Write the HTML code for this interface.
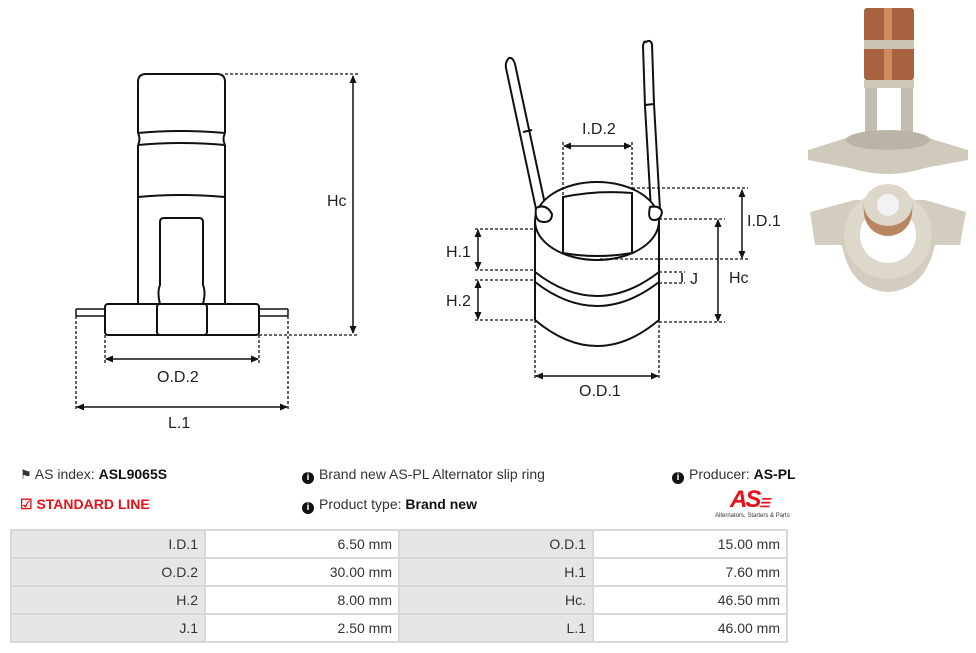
<!DOCTYPE html>
<html><head><meta charset="utf-8"><style>
body{margin:0;width:976px;height:653px;background:#fff;font-family:"Liberation Sans",sans-serif;position:relative;overflow:hidden}
.t{position:absolute;font-size:14px;color:#333;white-space:nowrap}
b{color:#111}
table{position:absolute;left:10px;top:529px;border-collapse:collapse;width:778px}
td{border:2px solid #d8d8d8;height:26px;font-size:14px;color:#333;text-align:right;padding:0 6px}
td.g{background:#e6e6e6;width:181px}
td.w{background:#fff;width:181px}
.ic{display:inline-block;width:12px;height:12px;border-radius:50%;background:#111;color:#fff;font-size:10px;line-height:12px;text-align:center;font-weight:bold;vertical-align:-1px;margin-right:5px}
</style></head><body>
<svg width="976" height="460" style="position:absolute;left:0;top:0" fill="none" stroke="#111" stroke-width="2">
<defs><marker id="a" markerUnits="userSpaceOnUse" markerWidth="8" markerHeight="8" refX="7" refY="4" orient="auto-start-reverse"><path d="M0,0.5 L8,4 L0,7.5z" fill="#111" stroke="none"/></marker></defs>
<!-- left part -->
<path d="M138,133 L138,82 Q138,74 146,74 L217,74 Q225,74 225,82 L225,133"/>
<path d="M138,133 Q180,129 225,133 M138,133 Q141,139 138,145 M225,133 Q222,139 225,145 M138,145 Q180,141 225,145"/>
<path d="M138,145 L138,304 M225,145 L225,304 M138,197 Q180,193 225,197"/>
<path d="M160,304 Q157,292 160,285 L160,222 Q160,218 164,218 L199,218 Q203,218 203,222 L203,285 Q206,292 203,304"/>
<rect x="105" y="304" width="154" height="31" rx="3"/>
<rect x="157" y="304" width="50" height="31" rx="3"/>
<path d="M76,309 L105,309 M76,316 L105,316 M259,309 L288,309 M259,316 L288,316 M76,309 L76,316 M288,309 L288,316" stroke-width="1.5"/>
<g stroke-dasharray="3,2" stroke-width="1.3">
<path d="M225,74 L358,74 M259,335 L358,335 M105,335 L105,364 M259,335 L259,364 M76,316 L76,410 M288,316 L288,410"/>
</g>
<g stroke-width="1.5">
<path d="M353,76 L353,333" marker-start="url(#a)" marker-end="url(#a)"/>
<path d="M106,359 L258,359" marker-start="url(#a)" marker-end="url(#a)"/>
<path d="M77,407 L287,407" marker-start="url(#a)" marker-end="url(#a)"/>
</g>
<!-- right part -->
<path d="M509,58 Q505,62 506,68 L536,209 L546,209 L515,64 Q513,57 509,58z" fill="#fff"/>
<path d="M523,132 L532,130"/>
<path d="M646,42 Q644,40 643,46 L645,106 L651,210 L660,210 L654,104 L652,44 Q650,39 646,42z" fill="#fff"/>
<path d="M645,105 L654,104"/>
<ellipse cx="597" cy="221" rx="62" ry="39" fill="#fff"/>
<path d="M563,197 Q597,190 632,193 L632,253 Q597,259 563,253 Z"/>
<path d="M535,221 L535,320 M659,221 L659,320"/>
<path d="M535,272 Q597,320 659,272 M535,282 Q597,330 659,282 M535,320 Q597,372 659,320"/>
<path d="M536,208 Q546,203 552,214 Q552,222 544,222 Q534,222 536,208z" fill="#fff"/>
<path d="M650,207 Q660,205 662,212 Q661,220 654,220 Q647,220 650,207z" fill="#fff"/>
<g stroke-dasharray="3,2" stroke-width="1.3">
<path d="M563,142 L563,197 M632,142 L632,193 M632,188 L748,188 M600,259 L748,259 M659,219 L725,219 M659,322 L725,322 M475,229 L535,229 M475,270 L535,270 M475,280 L535,280 M475,320 L535,320 M659,272 L685,272 M659,283 L685,283 M535,320 L535,380 M659,320 L659,380"/>
</g>
<g stroke-width="1.5">
<path d="M564,146 L631,146" marker-start="url(#a)" marker-end="url(#a)"/>
<path d="M742,190 L742,258" marker-start="url(#a)" marker-end="url(#a)"/>
<path d="M718,220 L718,321" marker-start="url(#a)" marker-end="url(#a)"/>
<path d="M478,230 L478,269" marker-start="url(#a)" marker-end="url(#a)"/>
<path d="M478,281 L478,319" marker-start="url(#a)" marker-end="url(#a)"/>
<path d="M682,273 L682,282"/>
<path d="M536,376 L658,376" marker-start="url(#a)" marker-end="url(#a)"/>
</g>
<g fill="#222" stroke="none" font-family="Liberation Sans" font-size="16">
<text x="327" y="206">Hc</text><text x="157" y="382">O.D.2</text><text x="168" y="428">L.1</text>
<text x="582" y="134">I.D.2</text><text x="747" y="226">I.D.1</text><text x="729" y="283">Hc</text>
<text x="446" y="257">H.1</text><text x="446" y="306">H.2</text><text x="690" y="284">J</text><text x="579" y="396">O.D.1</text>
</g>
<!-- photos -->
<g stroke="none">
<rect x="864" y="8" width="50" height="72" rx="3" fill="#a8623f"/>
<rect x="884" y="8" width="8" height="72" fill="#d08a60"/>
<rect x="864" y="40" width="50" height="9" fill="#c9c4b4"/>
<rect x="864" y="80" width="50" height="8" fill="#cdc8b8"/>
<rect x="865" y="88" width="12" height="50" fill="#c2bdae"/>
<rect x="901" y="88" width="12" height="50" fill="#c2bdae"/>
<path d="M808,150 L840,140 Q888,122 935,140 L968,150 L968,160 L925,168 Q888,180 850,168 L808,160Z" fill="#cfcabb"/>
<ellipse cx="888" cy="140" rx="42" ry="10" fill="#b9b4a5"/>
<path d="M810,212 L855,200 L925,200 L966,212 L960,245 L935,245 Q925,290 888,292 Q850,290 842,245 L815,245Z" fill="#d2cdbf"/>
<circle cx="888" cy="235" r="44" fill="#ddd8ca"/>
<circle cx="888" cy="235" r="28" fill="#fff"/>
<ellipse cx="888" cy="208" rx="25" ry="22" fill="#c9c3b3"/>
<ellipse cx="888" cy="212" rx="24" ry="24" fill="#b88560"/>
<ellipse cx="888" cy="205" rx="24" ry="21" fill="#dcd7c9"/>
<circle cx="888" cy="205" r="11" fill="#f3f3f3"/>
</g>
</svg>
<div class="t" style="left:20px;top:466px"><span style="font-size:13px">&#9873;</span> AS index: <b>ASL9065S</b></div>
<div class="t" style="left:20px;top:496px;color:#e8101a;font-weight:bold">&#9745; STANDARD LINE</div>
<div class="t" style="left:302px;top:466px"><span class="ic">i</span>Brand new AS-PL Alternator slip ring</div>
<div class="t" style="left:302px;top:496px"><span class="ic">i</span>Product type: <b>Brand new</b></div>
<div class="t" style="left:672px;top:466px"><span class="ic">i</span>Producer: <b>AS-PL</b></div>
<div style="position:absolute;left:730px;top:486px;font:italic bold 24px 'Liberation Sans',sans-serif;color:#e8101a;letter-spacing:-2px">AS<span style="font-size:12px;letter-spacing:0">&#9776;</span></div>
<div style="position:absolute;left:715px;top:513px;font-size:6px;color:#333">Alternators, Starters &amp; Parts</div>
<table>
<tr><td class="g">I.D.1</td><td class="w">6.50 mm</td><td class="g">O.D.1</td><td class="w">15.00 mm</td></tr>
<tr><td class="g">O.D.2</td><td class="w">30.00 mm</td><td class="g">H.1</td><td class="w">7.60 mm</td></tr>
<tr><td class="g">H.2</td><td class="w">8.00 mm</td><td class="g">Hc.</td><td class="w">46.50 mm</td></tr>
<tr><td class="g">J.1</td><td class="w">2.50 mm</td><td class="g">L.1</td><td class="w">46.00 mm</td></tr>
</table>
</body></html>
